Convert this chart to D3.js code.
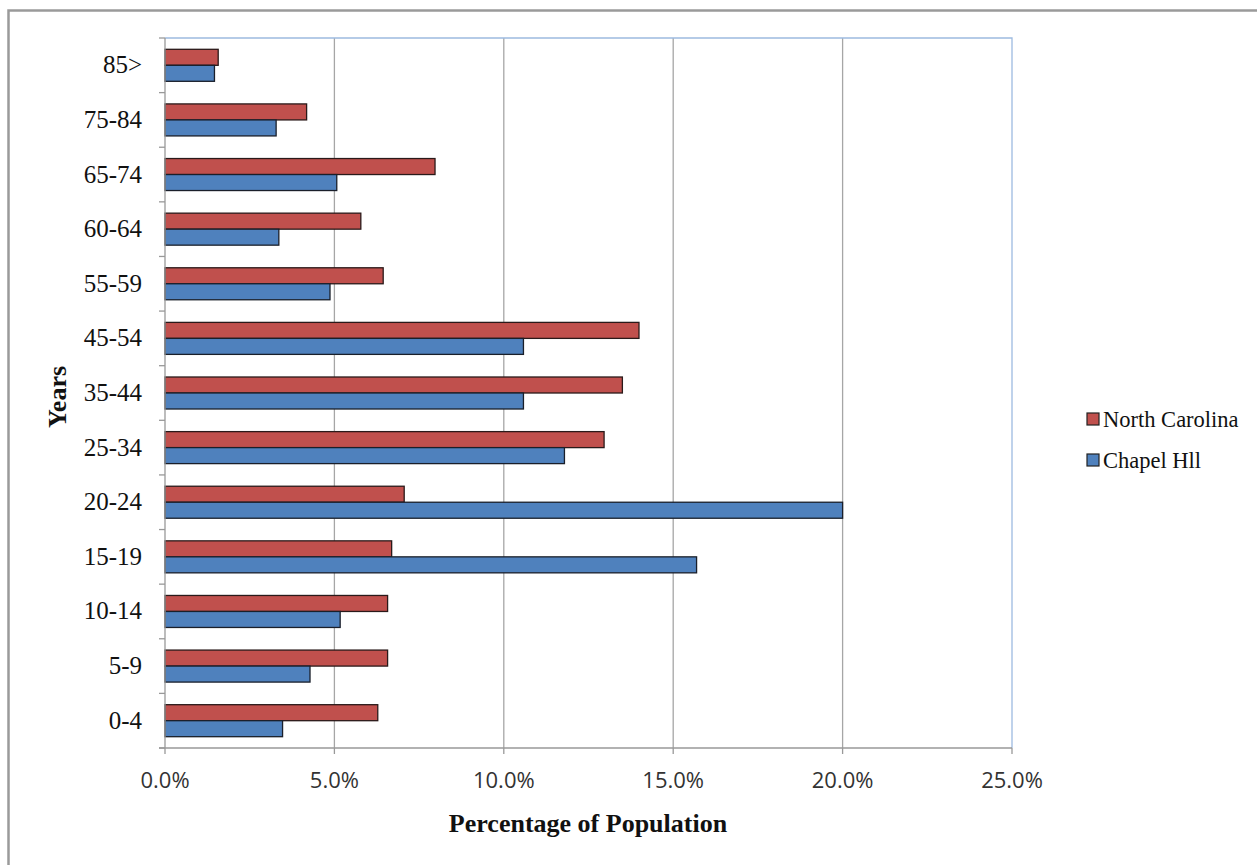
<!DOCTYPE html>
<html>
<head>
<meta charset="utf-8">
<script src="https://cdn.jsdelivr.net/npm/d3@7"></script>
<style>
    body { margin: 0; background: #fff; }
    svg { display: block; }
    .cat-label { font-family: "Liberation Serif", serif; font-size: 25px; fill: #111; }
    .tick-label { font-family: "Open Sans", "Liberation Sans", sans-serif; font-size: 22px; fill: #333; }
    .axis-title { font-family: "Liberation Serif", serif; font-size: 26px; font-weight: bold; fill: #111; }
    .legend-label { font-family: "Liberation Serif", serif; font-size: 22.5px; fill: #111; }
</style>
</head>
<body>
<svg id="view" width="1257" height="865"></svg>
<script>
const Categories = ['0-4', '5-9', '10-14', '15-19', '20-24', '25-34', '35-44',
    '45-54', '55-59', '60-64', '65-74', '75-84', '85>'];

// percent of population
const NorthCarolina = [6.28, 6.57, 6.57, 6.69, 7.06, 12.96, 13.5, 13.99, 6.44, 5.78, 7.97, 4.18, 1.57];
const ChapelHill = [3.47, 4.28, 5.17, 15.69, 20.0, 11.79, 10.58, 10.58, 4.87, 3.36, 5.07, 3.28, 1.46];

const SeriesNames = ['North Carolina', 'Chapel Hll'];
const XTicks = [0, 5, 10, 15, 20, 25];

function start() {
    var svg = d3.select('svg#view');
    const left = 165, right = 1012, top = 38, bottom = 748;
    const barH = 16;

    // outer frame
    svg.append('rect')
        .attr('x', 8.5).attr('y', 10.5)
        .attr('width', 1300).attr('height', 900)
        .attr('fill', 'none')
        .attr('stroke', '#9a9a9a')
        .attr('stroke-width', 2.5);

    var xScale = d3.scaleLinear()
        .domain([0, 25])
        .range([left, right]);
    var yScale = d3.scaleBand()
        .domain(Categories.slice().reverse())
        .range([top, bottom]);

    // gridlines
    svg.append('g')
        .selectAll('line')
        .data(XTicks.slice(1, 5))
        .enter()
        .append('line')
        .attr('x1', function(d) { return xScale(d); })
        .attr('x2', function(d) { return xScale(d); })
        .attr('y1', top)
        .attr('y2', bottom)
        .attr('stroke', '#a6a6a6')
        .attr('stroke-width', 1.3);

    // plot border top/right
    svg.append('path')
        .attr('d', 'M' + left + ',' + top + 'H' + right + 'V' + bottom)
        .attr('fill', 'none')
        .attr('stroke', '#9dbbe0')
        .attr('stroke-width', 1.3);

    // bars
    var groups = svg.append('g')
        .selectAll('g.cat')
        .data(Categories)
        .enter()
        .append('g')
        .attr('class', 'cat');

    groups.each(function(c, i) {
        var g = d3.select(this);
        var mid = yScale(c) + yScale.bandwidth() / 2;
        g.append('rect')
            .attr('x', xScale(0))
            .attr('y', mid - barH)
            .attr('width', xScale(NorthCarolina[i]) - xScale(0))
            .attr('height', barH)
            .attr('fill', '#c0504d')
            .attr('stroke', '#2a1a1a')
            .attr('stroke-width', 1.3);
        g.append('rect')
            .attr('x', xScale(0))
            .attr('y', mid)
            .attr('width', xScale(ChapelHill[i]) - xScale(0))
            .attr('height', barH)
            .attr('fill', '#4f81bd')
            .attr('stroke', '#1a1f2a')
            .attr('stroke-width', 1.3);
        g.append('text')
            .attr('class', 'cat-label')
            .attr('x', 142)
            .attr('y', mid + 8)
            .attr('text-anchor', 'end')
            .text(c);
    });

    // axes
    var axisColor = '#999';
    svg.append('line')
        .attr('x1', left).attr('x2', left)
        .attr('y1', top).attr('y2', bottom)
        .attr('stroke', axisColor).attr('stroke-width', 1.3);
    svg.append('line')
        .attr('x1', left - 6).attr('x2', right)
        .attr('y1', bottom).attr('y2', bottom)
        .attr('stroke', axisColor).attr('stroke-width', 1.3);

    // y tick marks at band edges
    svg.append('g')
        .selectAll('line')
        .data(d3.range(Categories.length + 1))
        .enter()
        .append('line')
        .attr('x1', left - 6).attr('x2', left)
        .attr('y1', function(d) { return top + d * yScale.step(); })
        .attr('y2', function(d) { return top + d * yScale.step(); })
        .attr('stroke', axisColor).attr('stroke-width', 1.3);

    // x ticks
    var xt = svg.append('g')
        .selectAll('g')
        .data(XTicks)
        .enter()
        .append('g');
    xt.append('line')
        .attr('x1', function(d) { return xScale(d); })
        .attr('x2', function(d) { return xScale(d); })
        .attr('y1', bottom).attr('y2', bottom + 6)
        .attr('stroke', axisColor).attr('stroke-width', 1.3);
    xt.append('text')
        .attr('class', 'tick-label')
        .attr('x', function(d) { return xScale(d); })
        .attr('y', 788)
        .attr('text-anchor', 'middle')
        .text(function(d) { return d.toFixed(1) + '%'; });

    // axis titles
    svg.append('text')
        .attr('class', 'axis-title')
        .attr('x', 588).attr('y', 832)
        .attr('text-anchor', 'middle')
        .text('Percentage of Population');
    svg.append('text')
        .attr('class', 'axis-title')
        .attr('transform', 'translate(66,397) rotate(-90)')
        .attr('text-anchor', 'middle')
        .text('Years');

    // legend
    var colors = ['#c0504d', '#4f81bd'];
    var lg = svg.append('g')
        .selectAll('g')
        .data(SeriesNames)
        .enter()
        .append('g')
        .attr('transform', function(d, i) {
            return 'translate(1087,' + (419 + i * 41) + ')';
        });
    lg.append('rect')
        .attr('x', 0).attr('y', -6)
        .attr('width', 12).attr('height', 12)
        .attr('fill', function(d, i) { return colors[i]; })
        .attr('stroke', '#222').attr('stroke-width', 1.2);
    lg.append('text')
        .attr('class', 'legend-label')
        .attr('x', 16).attr('y', 8)
        .text(function(d) { return d; });
}

start();
</script>
</body>
</html>
